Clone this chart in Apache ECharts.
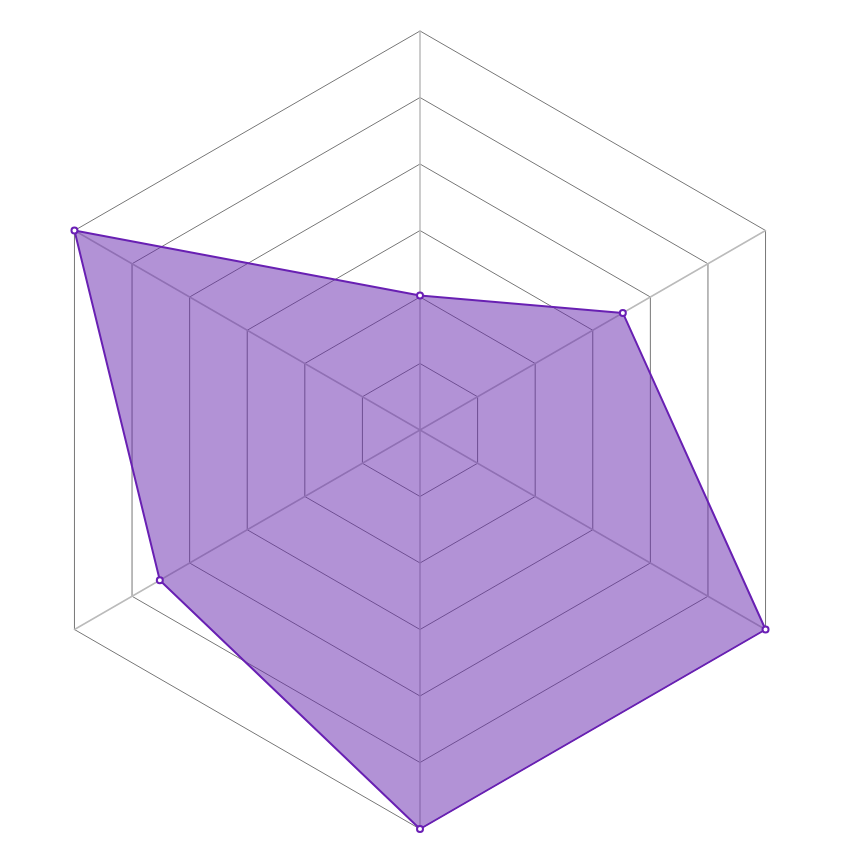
<!DOCTYPE html>
<html>
<head>
<meta charset="utf-8">
<script src="https://cdn.jsdelivr.net/npm/echarts@6/dist/echarts.min.js"></script>
<style>html,body{margin:0;padding:0;background:#fff;}#c{width:860px;height:860px;}</style>
</head>
<body>
<div id="c"></div>
<script>
// Indicators in ECharts order (counter-clockwise from top)
const indicatorNames = ['A', 'B', 'C', 'D', 'E', 'F'];
const indicatorMax = [100, 100, 100, 100, 100, 100];
const seriesValues = [33.7, 100, 75.3, 100, 100, 58.7];

const chart = echarts.init(document.getElementById('c'));
chart.setOption({
  animation: false,
  radar: {
    center: [420, 430],
    radius: 399,
    splitNumber: 6,
    shape: 'polygon',
    indicator: indicatorNames.map((n, i) => ({ name: n, max: indicatorMax[i], min: 0 })),
    axisName: { show: false },
    splitArea: { show: false },
    splitLine: { lineStyle: { color: '#777', width: 1 } },
    axisLine: { lineStyle: { color: '#bbb', width: 1.5 } },
    axisTick: { show: false },
    axisLabel: { show: false }
  },
  series: [{
    type: 'radar',
    symbol: 'emptyCircle',
    symbolSize: 6,
    lineStyle: { color: '#6a1fb5', width: 2 },
    itemStyle: { color: '#6a1fb5', borderColor: '#6a1fb5', borderWidth: 1.5 },
    areaStyle: { color: '#6525ad', opacity: 0.5 },
    data: [{ value: seriesValues }]
  }]
});
</script>
</body>
</html>
